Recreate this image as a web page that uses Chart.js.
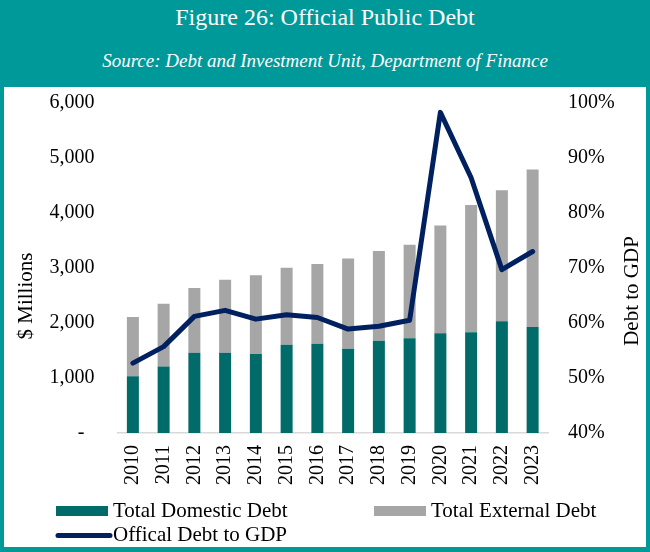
<!DOCTYPE html>
<html>
<head>
<meta charset="utf-8">
<title>Figure 26: Official Public Debt</title>
<script src="https://cdn.jsdelivr.net/npm/chart.js@4/dist/chart.umd.min.js"></script>
<style>
    body { margin: 0; background: #fff; }
    .figure { position: relative; width: 650px; height: 552px; background: #00999a; font-family: "Liberation Serif", serif; overflow: hidden; }
    .title { position: absolute; left: 0; top: 2px; width: 650px; text-align: center; color: #fff; font-size: 24px; line-height: 30px; }
    .subtitle { position: absolute; left: 0; top: 49px; width: 650px; text-align: center; color: #fff; font-size: 19px; font-style: italic; line-height: 24px; }
    .plot { position: absolute; left: 4px; top: 87px; width: 642px; height: 460px; background: #fff; }
    canvas { display: block; }
</style>
</head>
<body>
<div class="figure">
    <div class="title">Figure 26: Official Public Debt</div>
    <div class="subtitle">Source: Debt and Investment Unit, Department of Finance</div>
    <div class="plot"><canvas id="debt-chart" width="642" height="460"></canvas></div>
</div>
<script>
// values ($ millions and % of GDP)
const years = ['2010', '2011', '2012', '2013', '2014', '2015', '2016', '2017', '2018', '2019', '2020', '2021', '2022', '2023'];
const domesticDebt = [1030, 1210, 1460, 1460, 1436, 1605, 1624, 1533, 1678, 1721, 1812, 1830, 2030, 1927];
const externalDebt = [1080, 1140, 1176, 1327, 1430, 1400, 1448, 1642, 1631, 1703, 1963, 2315, 2382, 2866];
const debtToGdp = [52.7, 55.7, 61.2, 62.3, 60.7, 61.5, 61.0, 58.9, 59.4, 60.5, 98.3, 86.4, 69.7, 73.0];

const leftTitle = '$ Millions';
const rightTitle = 'Debt to GDP';

const serif = '"Liberation Serif", "Times New Roman", serif';
const colors = {
    domestic: '#006b68',
    external: '#a6a6a6',
    ratio: '#002060',
    axis: '#d9d9d9',
    text: '#000000'
};

// axis titles are drawn by hand: Excel reads the right one bottom-to-top
const axisTitles = {
    id: 'axisTitles',
    afterDraw(chart) {
        const ctx = chart.ctx;
        ctx.save();
        ctx.font = '21px ' + serif;
        ctx.fillStyle = colors.text;
        ctx.textAlign = 'center';
        ctx.textBaseline = 'middle';
        [[leftTitle, 22, 209], [rightTitle, 628, 204]].forEach(([text, x, y]) => {
            ctx.save();
            ctx.translate(x, y);
            ctx.rotate(-Math.PI / 2);
            ctx.fillText(text, 0, 0);
            ctx.restore();
        });
        ctx.restore();
    }
};

// legend laid out like the original: two columns, line item on its own row
const figureLegend = {
    id: 'figureLegend',
    afterDraw(chart) {
        const ctx = chart.ctx;
        const ds = chart.data.datasets;
        const slots = [[52, 424], [370, 424], [52, 448.5]];
        ctx.save();
        ctx.font = '21px ' + serif;
        ctx.textBaseline = 'middle';
        ds.forEach((d, i) => {
            const [x, y] = slots[i];
            if (d.type === 'line') {
                ctx.strokeStyle = d.borderColor;
                ctx.lineWidth = 5;
                ctx.lineCap = 'round';
                ctx.beginPath();
                ctx.moveTo(x + 2, y);
                ctx.lineTo(x + 54, y);
                ctx.stroke();
            } else {
                ctx.fillStyle = d.backgroundColor;
                ctx.fillRect(x, y - 5, 52, 10);
            }
            ctx.fillStyle = colors.text;
            ctx.fillText(d.label, x + 57, y);
        });
        ctx.restore();
    }
};

const tickFont = {family: serif, size: 20};

// fixed axis sizes; tick padding would otherwise push the plot top down
const fixWidth = (w) => (scale) => {
    scale.width = w;
    scale.paddingTop = 12;
    scale.paddingBottom = 12;
};

new Chart(document.getElementById('debt-chart'), {
    data: {
        labels: years,
        datasets: [
            {
                type: 'bar',
                label: 'Total Domestic Debt',
                data: domesticDebt,
                backgroundColor: colors.domestic,
                yAxisID: 'y',
                order: 1,
                barPercentage: 0.39,
                categoryPercentage: 1
            },
            {
                type: 'bar',
                label: 'Total External Debt',
                data: externalDebt,
                backgroundColor: colors.external,
                yAxisID: 'y',
                order: 1,
                barPercentage: 0.39,
                categoryPercentage: 1
            },
            {
                type: 'line',
                label: 'Offical Debt to GDP',
                data: debtToGdp,
                borderColor: colors.ratio,
                backgroundColor: colors.ratio,
                borderWidth: 5,
                borderJoinStyle: 'round',
                borderCapStyle: 'round',
                pointRadius: 0,
                tension: 0,
                yAxisID: 'y1',
                order: 0
            }
        ]
    },
    plugins: [axisTitles, figureLegend],
    options: {
        responsive: false,
        animation: false,
        devicePixelRatio: 1,
        layout: {
            padding: {left: 6, right: 0, top: 16, bottom: 59}
        },
        plugins: {
            legend: {display: false},
            title: {display: false}
        },
        scales: {
            x: {
                stacked: true,
                grid: {display: false, drawTicks: false},
                border: {display: true, color: colors.axis, width: 1.5},
                ticks: {
                    color: colors.text,
                    font: tickFont,
                    minRotation: 90,
                    maxRotation: 90,
                    autoSkip: false,
                    padding: 12
                },
                afterFit(scale) {
                    scale.height = 55;
                }
            },
            y: {
                position: 'left',
                stacked: true,
                min: 0,
                max: 6000,
                grid: {display: false, drawTicks: false},
                border: {display: false},
                ticks: {
                    stepSize: 1000,
                    color: colors.text,
                    font: tickFont,
                    padding: 23,
                    callback: (v) => v === 0 ? '-  ' : v.toLocaleString('en-US')
                },
                afterFit: fixWidth(107.5)
            },
            y1: {
                position: 'right',
                min: 40,
                max: 100,
                grid: {display: false, drawTicks: false},
                border: {display: false},
                ticks: {
                    stepSize: 10,
                    color: colors.text,
                    font: tickFont,
                    padding: 20,
                    callback: (v) => v + '%'
                },
                afterFit: fixWidth(98)
            }
        }
    }
});
</script>
</body>
</html>
